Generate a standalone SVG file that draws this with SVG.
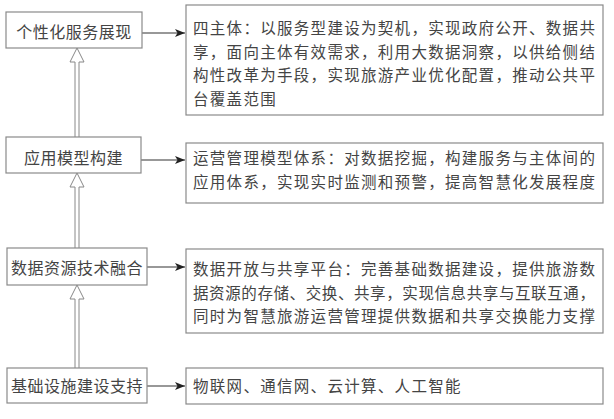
<svg xmlns="http://www.w3.org/2000/svg" width="614" height="419" viewBox="0 0 614 419">
<style>
.box{fill:#fff;stroke:#8a8a8a;stroke-width:1.2}
.lt{font-family:"Noto Sans CJK SC","Noto Sans",sans-serif;font-size:16px;letter-spacing:0.5px;fill:#444;text-anchor:middle;dominant-baseline:central}
.rt{font-family:"Noto Sans CJK SC","Noto Sans",sans-serif;font-size:15.5px;letter-spacing:1.3px;fill:#444;dominant-baseline:central}
.h{stroke:#333;stroke-width:1.2;fill:none}
.v{fill:#fff;stroke:#888;stroke-width:1}
</style>
<defs>
<marker id="ah" markerWidth="10" markerHeight="8" refX="10" refY="4" orient="auto" markerUnits="userSpaceOnUse">
<path d="M0,0 L10,4 L0,8 L2.5,4 Z" fill="#222"/>
</marker>
</defs>
<rect width="614" height="419" fill="#fff"/>
<g id="connectors">
<line class="h" x1="142" y1="33" x2="185" y2="33" marker-end="url(#ah)"/>
<line class="h" x1="141" y1="160" x2="185" y2="160" marker-end="url(#ah)"/>
<line class="h" x1="147" y1="267" x2="185" y2="267" marker-end="url(#ah)"/>
<line class="h" x1="147" y1="386" x2="185" y2="386" marker-end="url(#ah)"/>
<path class="v" d="M75,137 V62 H70 L77,48 L84,62 H79 V137"/>
<path class="v" d="M75,248 V187 H70 L77,173 L84,187 H79 V248"/>
<path class="v" d="M75,368 V299 H70 L77,285 L84,299 H79 V368"/>
</g>
<g id="n1">
<rect class="box" x="6" y="12" width="136" height="36"/>
<text class="lt" x="74" y="31">个性化服务展现</text>
</g>
<g id="n2">
<rect class="box" x="6" y="137" width="135" height="36"/>
<text class="lt" x="73.5" y="157">应用模型构建</text>
</g>
<g id="n3">
<rect class="box" x="7" y="248" width="140" height="37"/>
<text class="lt" x="77" y="267">数据资源技术融合</text>
</g>
<g id="n4">
<rect class="box" x="7" y="368" width="140" height="35"/>
<text class="lt" x="77" y="385">基础设施建设支持</text>
</g>
<g id="r1">
<rect class="box" x="186" y="5" width="417" height="110"/>
<text class="rt" x="193" y="27">四主体：以服务型建设为契机，实现政府公开、数据共</text>
<text class="rt" x="193" y="50.5">享，面向主体有效需求，利用大数据洞察，以供给侧结</text>
<text class="rt" x="193" y="74">构性改革为手段，实现旅游产业优化配置，推动公共平</text>
<text class="rt" x="193" y="97.5">台覆盖范围</text>
</g>
<g id="r2">
<rect class="box" x="186" y="143" width="417" height="60"/>
<text class="rt" x="193" y="157">运营管理模型体系：对数据挖掘，构建服务与主体间的</text>
<text class="rt" x="193" y="180.5">应用体系，实现实时监测和预警，提高智慧化发展程度</text>
</g>
<g id="r3">
<rect class="box" x="186" y="249" width="417" height="84"/>
<text class="rt" x="193" y="268">数据开放与共享平台：完善基础数据建设，提供旅游数</text>
<text class="rt" x="193" y="291.5" style="letter-spacing:0.6px">据资源的存储、交换、共享，实现信息共享与互联互通，</text>
<text class="rt" x="193" y="315">同时为智慧旅游运营管理提供数据和共享交换能力支撑</text>
</g>
<g id="r4">
<rect class="box" x="186" y="368" width="417" height="36"/>
<text class="rt" x="193" y="385">物联网、通信网、云计算、人工智能</text>
</g>
</svg>
